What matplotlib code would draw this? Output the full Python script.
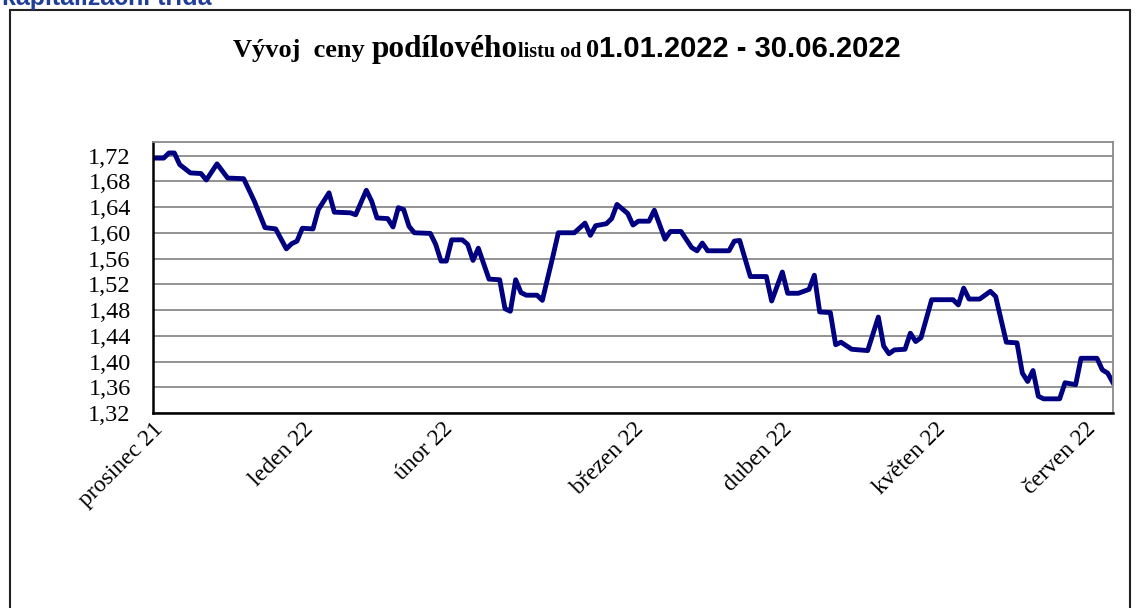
import numpy as np
import matplotlib
matplotlib.use('Agg')
import matplotlib.pyplot as plt
from matplotlib.patches import Rectangle

# price of the fund share (x = position along the axis, ~days)
dny = [0, 2, 3, 4, 5, 7, 9, 10, 12, 14, 17, 19, 21, 23, 25, 26, 27, 28, 30, 31,
       33, 34, 37, 38, 40, 41, 42, 44, 45, 46, 47, 48, 49, 52, 53, 54, 55, 56, 58, 59,
       60, 61, 63, 65, 66, 67, 68, 69, 70, 72, 73, 75, 76, 79, 81, 82, 83, 85, 86, 87,
       89, 90, 91, 93, 94, 96, 97, 99, 101, 102, 103, 104, 108, 109, 110, 112, 115, 116, 118, 119,
       121, 123, 124, 125, 127, 128, 129, 131, 134, 136, 137, 138, 139, 141, 142, 143, 144, 146, 150, 151,
       152, 153, 155, 157, 158, 160, 162, 163, 164, 165, 166, 167, 170, 171, 173, 174, 177, 178, 179, 180]
cena = [1.716, 1.716, 1.724, 1.724, 1.706, 1.693, 1.692, 1.682, 1.707, 1.685, 1.684, 1.649, 1.608, 1.606, 1.575, 1.583, 1.587, 1.607, 1.606, 1.636,
        1.662, 1.632, 1.631, 1.628, 1.666, 1.649, 1.623, 1.622, 1.609, 1.639, 1.636, 1.610, 1.600, 1.599, 1.582, 1.556, 1.556, 1.589, 1.589, 1.582,
        1.557, 1.576, 1.528, 1.527, 1.482, 1.478, 1.527, 1.507, 1.503, 1.503, 1.495, 1.564, 1.600, 1.600, 1.615, 1.596, 1.611, 1.614, 1.622, 1.644,
        1.630, 1.612, 1.618, 1.618, 1.635, 1.590, 1.602, 1.602, 1.577, 1.572, 1.584, 1.572, 1.572, 1.587, 1.588, 1.532, 1.532, 1.494, 1.539, 1.506,
        1.506, 1.512, 1.534, 1.477, 1.476, 1.426, 1.430, 1.419, 1.417, 1.469, 1.424, 1.412, 1.418, 1.419, 1.444, 1.431, 1.437, 1.496, 1.496, 1.488,
        1.514, 1.497, 1.497, 1.509, 1.501, 1.430, 1.429, 1.382, 1.369, 1.386, 1.346, 1.342, 1.342, 1.367, 1.364, 1.405, 1.405, 1.387, 1.382, 1.367]

mesice = ['prosinec 21', 'leden 22', 'únor 22', 'březen 22', 'duben 22', 'květen 22', 'červen 22']
mesice_pozice = [0, 28.1, 54.2, 90.0, 117.9, 146.6, 174.8]
y_ticky = [1.32, 1.36, 1.40, 1.44, 1.48, 1.52, 1.56, 1.60, 1.64, 1.68, 1.72]

fig = plt.figure(figsize=(11.38, 6.08), dpi=100)
W, H = 1138, 608

# outer frame (bottom runs off the picture)
fig.patches.append(Rectangle((10 / W, -0.1), 1120 / W, 1 - 10 / H + 0.1, transform=fig.transFigure,
                             fill=False, edgecolor='#222222', linewidth=1.5))

# header cut off at the top, as in the source
fig.text(2 / W, 1 - 5 / H, 'kapitalizační třída', color='#1f3f99', fontsize=18,
         fontweight='bold', family='Liberation Sans', ha='left', va='baseline')

ax = fig.add_axes([153 / W, 1 - 413 / H, 960 / W, 271 / H])
ax.plot(dny, cena, color='#000080', linewidth=3.5, solid_joinstyle='round')

ax.set_xlim(0, 180)
ax.set_ylim(1.32, 1.741)
ax.set_yticks(y_ticky)
ax.set_yticklabels([f'{v:.2f}'.replace('.', ',') for v in y_ticky],
                   family='Liberation Serif', fontsize=17.5)
ax.set_xticks(mesice_pozice)
ax.set_xticklabels(mesice, family='Liberation Serif', fontsize=17, rotation=45,
                   ha='right', va='top', rotation_mode='anchor')
ax.tick_params(axis='y', length=0, pad=16)
ax.tick_params(axis='x', length=0, pad=4)
ax.yaxis.grid(True, color='#8a8a8a', linewidth=1.3)
ax.set_axisbelow(True)
for s in ['left', 'bottom']:
    ax.spines[s].set_color('black')
    ax.spines[s].set_linewidth(1.8)
for s in ['top', 'right']:
    ax.spines[s].set_color('#8a8a8a')
    ax.spines[s].set_linewidth(1.3)

# title made of several pieces in different fonts
casti = [('Vývoj  ceny ', 'Liberation Serif', 19),
         ('podílového', 'Liberation Serif', 22.5),
         ('listu od ', 'Liberation Serif', 14.5),
         ('0', 'Liberation Serif', 19),
         ('1.01.2022 - 30.06.2022', 'Liberation Sans', 21)]
r = fig.canvas.get_renderer()
x = 233 / W
for txt, fam, size in casti:
    t = fig.text(x, 1 - 57 / H, txt, family=fam, fontsize=size, fontweight='bold',
                 ha='left', va='baseline', color='black')
    bb = t.get_window_extent(renderer=r)
    x = bb.x1 / W

fig.savefig('out.png', dpi=100)
